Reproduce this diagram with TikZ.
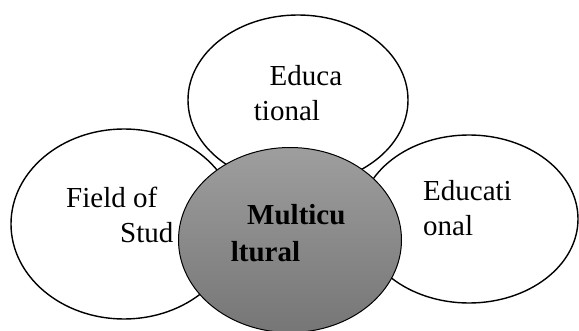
\documentclass[tikz,border=0pt]{standalone}
\usepackage{fontspec}
\setmainfont{Liberation Serif}
\usetikzlibrary{shapes.geometric}
\begin{document}
\begin{tikzpicture}[x=1pt,y=-1pt,
  petal/.style={draw=black,line width=1.4pt,ellipse,inner sep=0pt},
  core/.style={draw=black,line width=1pt,ellipse,inner sep=0pt,
    top color={rgb,255:red,158;green,158;blue,158},
    bottom color={rgb,255:red,118;green,118;blue,118}},
  lbl/.style={anchor=base west,inner sep=0pt,font=\fontsize{29}{35}\selectfont},
  blbl/.style={lbl,font=\fontsize{29}{35}\selectfont\bfseries}]
\useasboundingbox (0,0) rectangle (579,331);
\node[petal,minimum width=226pt,minimum height=190pt] (left) at (124,224) {};
\node[petal,minimum width=220pt,minimum height=170pt] (top) at (298,100) {};
\node[petal,minimum width=218pt,minimum height=168pt] (right) at (469,219) {};
\node[core,minimum width=223pt,minimum height=185pt] (center) at (290,240) {};
\node[lbl] (t1) at (269.5,86) {Educa};
\node[lbl] (t2) at (253.7,120.7) {tional};
\node[lbl] (l1) at (66,208) {Field of};
\node[lbl] (l2) at (120,243) {Stud};
\node[lbl] (r1) at (423,201) {Educati};
\node[lbl] (r2) at (423,236) {onal};
\node[blbl] (c1) at (247,225) {Multicu};
\node[blbl] (c2) at (230.7,262) {ltural};
\end{tikzpicture}
\end{document}
